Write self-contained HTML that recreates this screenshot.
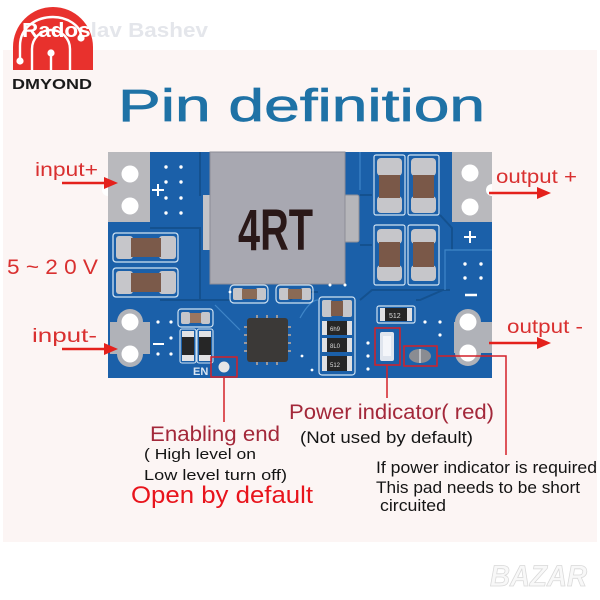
<!DOCTYPE html>
<html><head><meta charset="utf-8"><style>
html,body{margin:0;padding:0;background:#fff;}
svg{display:block}
text{font-family:"Liberation Sans",sans-serif}
</style></head><body>
<svg width="600" height="600" viewBox="0 0 600 600" xmlns="http://www.w3.org/2000/svg">
<rect width="600" height="600" fill="#fff"/>
<rect x="3" y="50" width="594" height="492" fill="#fcf5f4"/>

<!-- logo -->
<path d="M13,70 V47 A40,40 0 0 1 93,47 V70 Z" fill="#e8312d"/>
<g stroke="#fff" stroke-width="2.4" fill="none">
<path d="M20,59 V46 C20,26 38,17 53,17 C68,17 80,26 81,35"/>
<path d="M32,70 V49 A19,19 0 0 1 70,49 V70"/>
<path d="M51,56 V70"/>
</g>
<g fill="#fff"><circle cx="20" cy="61" r="3.6"/><circle cx="51" cy="53" r="3.6"/><circle cx="81" cy="38" r="3.6"/></g>
<text x="12" y="89" font-size="15" font-weight="bold" fill="#1a1a1a" textLength="80" lengthAdjust="spacingAndGlyphs">DMYOND</text>

<!-- watermark -->
<text x="22" y="37" font-size="20" font-weight="bold" textLength="186" lengthAdjust="spacingAndGlyphs"><tspan fill="#ffffff">Rados</tspan><tspan fill="#e4e6eb">lav Bashev</tspan></text>

<!-- title -->
<text x="118" y="121" font-size="45" fill="#1f72a6" stroke="#1f72a6" stroke-width="0.7" textLength="367" lengthAdjust="spacingAndGlyphs">Pin definition</text>

<!-- board -->
<rect x="108" y="152" width="384" height="226" fill="#1b60a9"/>
<!-- traces -->
<g stroke="#14518f" stroke-width="2" fill="none">
<path d="M200,152 V196"/>
<path d="M150,228 H200 V300 H230"/>
<path d="M360,195 H372 M360,245 H372"/>
<path d="M440,215 L452,228 V250"/>
<path d="M443,290 L420,300 H416"/>
<path d="M290,300 L300,292 H318"/>
<path d="M160,300 H220"/>
<path d="M360,300 L372,290 H450"/>
</g>
<g stroke="#3f86c8" stroke-width="1.2" fill="none">
<path d="M360,190 V152"/>
<path d="M445,290 V250 H492"/>
<path d="M300,318 Q310,300 318,300"/>
<path d="M240,330 Q225,315 215,305"/>
</g>

<!-- left top pad -->
<rect x="108" y="152" width="42" height="70" fill="#b9b9bd"/>
<circle cx="130" cy="174" r="8.5" fill="#fff"/>
<circle cx="130" cy="206" r="8.5" fill="#fff"/>
<path d="M108,184 A6,6 0 0 0 108,196" fill="#fff"/>
<g stroke="#fff" stroke-width="2"><path d="M152,190 H164 M158,184 V196"/></g>
<g fill="#fff">
<circle cx="166" cy="167" r="1.7"/><circle cx="181" cy="167" r="1.7"/>
<circle cx="166" cy="182" r="1.7"/><circle cx="181" cy="182" r="1.7"/>
<circle cx="166" cy="198" r="1.7"/><circle cx="181" cy="198" r="1.7"/>
<circle cx="166" cy="213" r="1.7"/><circle cx="181" cy="213" r="1.7"/>
</g>

<!-- left caps -->
<g>
<rect x="113" y="233" width="65" height="29" rx="3" fill="none" stroke="#cfe2f2" stroke-width="1.3"/>
<rect x="116" y="236" width="17" height="23" rx="3" fill="#c6c6ca"/>
<rect x="159" y="236" width="17" height="23" rx="3" fill="#c6c6ca"/>
<rect x="131" y="238" width="30" height="19" fill="#7b5a4a"/>
<rect x="113" y="268" width="65" height="29" rx="3" fill="none" stroke="#cfe2f2" stroke-width="1.3"/>
<rect x="116" y="271" width="17" height="23" rx="3" fill="#c6c6ca"/>
<rect x="159" y="271" width="17" height="23" rx="3" fill="#c6c6ca"/>
<rect x="131" y="273" width="30" height="19" fill="#7b5a4a"/>
</g>

<!-- bottom left holes -->
<rect x="110" y="322" width="40" height="32" fill="#b0b2b8"/>
<circle cx="130" cy="322" r="13" fill="#b0b2b8"/>
<circle cx="130" cy="354" r="13" fill="#b0b2b8"/>
<circle cx="130" cy="322" r="8.5" fill="#fff"/>
<circle cx="130" cy="354" r="8.5" fill="#fff"/>
<g fill="#fff">
<circle cx="158" cy="322" r="1.6"/><circle cx="171" cy="322" r="1.6"/>
<circle cx="171" cy="338" r="1.6"/>
<circle cx="158" cy="354" r="1.6"/><circle cx="171" cy="354" r="1.6"/>
</g>
<path d="M153,344 H164" stroke="#fff" stroke-width="2"/>

<!-- small cap + resistors bottom left -->
<rect x="178" y="309" width="35" height="18" rx="3" fill="none" stroke="#cfe2f2" stroke-width="1.2"/>
<rect x="181" y="312" width="9" height="12" rx="2" fill="#c6c6ca"/>
<rect x="201" y="312" width="9" height="12" rx="2" fill="#c6c6ca"/>
<rect x="190" y="313" width="11" height="10" fill="#9a7660"/>
<rect x="180" y="329" width="16" height="34" rx="2" fill="none" stroke="#cfe2f2" stroke-width="1.1"/>
<rect x="197" y="329" width="16" height="34" rx="2" fill="none" stroke="#cfe2f2" stroke-width="1.1"/>
<rect x="182" y="331" width="12" height="30" fill="#e2e2e4"/>
<rect x="199" y="331" width="12" height="30" fill="#e2e2e4"/>
<rect x="182" y="337" width="12" height="18" fill="#262626"/>
<rect x="199" y="337" width="12" height="18" fill="#262626"/>
<text x="193" y="375" font-size="11" font-weight="bold" fill="#dbe6f2">EN</text>

<!-- inductor -->
<rect x="203" y="195" width="8" height="55" fill="#c4c4c8"/>
<rect x="344" y="195" width="15" height="47" rx="2" fill="#b6b6ba" stroke="#8f8f97" stroke-width="1"/>
<rect x="210" y="152" width="135" height="132" fill="#a8a8b1" stroke="#8d8d96" stroke-width="1"/>
<text x="238" y="250" font-size="58" font-weight="bold" fill="#2a1818" textLength="75" lengthAdjust="spacingAndGlyphs">4RT</text>

<!-- caps under inductor -->
<rect x="230" y="285" width="38" height="18" rx="4" fill="none" stroke="#cfe2f2" stroke-width="1.2"/>
<rect x="233" y="288" width="10" height="12" rx="2" fill="#c6c6ca"/>
<rect x="256" y="288" width="10" height="12" rx="2" fill="#c6c6ca"/>
<rect x="242" y="289" width="15" height="10" fill="#8a6a55"/>
<rect x="276" y="285" width="37" height="18" rx="4" fill="none" stroke="#cfe2f2" stroke-width="1.2"/>
<rect x="279" y="288" width="10" height="12" rx="2" fill="#c6c6ca"/>
<rect x="301" y="288" width="10" height="12" rx="2" fill="#c6c6ca"/>
<rect x="288" y="289" width="14" height="10" fill="#8a6a55"/>

<!-- IC -->
<rect x="247" y="318" width="41" height="44" rx="3" fill="#3b3937"/>
<g fill="#9a9aa0">
<rect x="244" y="326" width="3" height="2"/><rect x="244" y="334" width="3" height="2"/><rect x="244" y="342" width="3" height="2"/><rect x="244" y="350" width="3" height="2"/>
<rect x="288" y="326" width="3" height="2"/><rect x="288" y="334" width="3" height="2"/><rect x="288" y="342" width="3" height="2"/><rect x="288" y="350" width="3" height="2"/>
<rect x="256" y="315" width="2" height="3"/><rect x="266" y="315" width="2" height="3"/><rect x="276" y="315" width="2" height="3"/>
<rect x="256" y="362" width="2" height="3"/><rect x="266" y="362" width="2" height="3"/><rect x="276" y="362" width="2" height="3"/>
</g>

<!-- resistor column -->
<rect x="319" y="297" width="36" height="78" rx="3" fill="none" stroke="#cfe2f2" stroke-width="1.2"/>
<rect x="322" y="300" width="10" height="17" rx="2" fill="#c6c6ca"/>
<rect x="342" y="300" width="10" height="17" rx="2" fill="#c6c6ca"/>
<rect x="331" y="301" width="12" height="15" fill="#7e5c4a"/>
<g>
<rect x="322" y="321" width="30" height="14" fill="#e0e0e2"/><rect x="327" y="321" width="20" height="14" fill="#262626"/>
<rect x="322" y="338" width="30" height="14" fill="#e0e0e2"/><rect x="327" y="338" width="20" height="14" fill="#262626"/>
<rect x="322" y="356" width="30" height="15" fill="#e0e0e2"/><rect x="327" y="356" width="20" height="15" fill="#262626"/>
</g>
<g font-size="6" fill="#ddd"><text x="330" y="331">6h9</text><text x="330" y="348">8L0</text><text x="330" y="367">512</text></g>

<!-- 512 resistor -->
<rect x="377" y="306" width="38" height="17" rx="2" fill="none" stroke="#cfe2f2" stroke-width="1.2"/>
<rect x="380" y="308" width="32" height="13" fill="#e0e0e2"/>
<rect x="385" y="308" width="22" height="13" fill="#262626"/>
<text x="389" y="318" font-size="7" fill="#ddd">512</text>

<!-- right caps -->
<g fill="none" stroke="#cfe2f2" stroke-width="1.2">
<rect x="374" y="155" width="31" height="60" rx="2"/>
<rect x="408" y="155" width="31" height="60" rx="2"/>
<rect x="374" y="225" width="31" height="60" rx="2"/>
<rect x="408" y="225" width="31" height="60" rx="2"/>
</g>
<g fill="#c6c6ca">
<rect x="377" y="158" width="25" height="18" rx="4"/><rect x="377" y="196" width="25" height="17" rx="4"/>
<rect x="411" y="158" width="25" height="18" rx="4"/><rect x="411" y="196" width="25" height="17" rx="4"/>
<rect x="377" y="229" width="25" height="15" rx="4"/><rect x="377" y="265" width="25" height="16" rx="4"/>
<rect x="411" y="229" width="25" height="15" rx="4"/><rect x="411" y="265" width="25" height="16" rx="4"/>
</g>
<g fill="#7a5848">
<rect x="379" y="175" width="21" height="23"/><rect x="413" y="175" width="21" height="23"/>
<rect x="379" y="242" width="21" height="25"/><rect x="413" y="242" width="21" height="25"/>
</g>

<!-- right top pad -->
<rect x="452" y="152" width="40" height="70" fill="#b9b9bd"/>
<circle cx="470" cy="173" r="8.5" fill="#fff"/>
<circle cx="470" cy="207" r="8.5" fill="#fff"/>
<path d="M492,184 A6,6 0 0 0 492,196" fill="#fff"/>
<g stroke="#fff" stroke-width="2"><path d="M464,237 H476 M470,231 V243"/><path d="M465,295 H477" stroke-width="2.5"/></g>
<g fill="#fff">
<circle cx="465" cy="264" r="1.7"/><circle cx="481" cy="264" r="1.7"/>
<circle cx="465" cy="278" r="1.7"/><circle cx="481" cy="278" r="1.7"/>
<circle cx="368" cy="343" r="1.6"/><circle cx="368" cy="356" r="1.6"/><circle cx="368" cy="369" r="1.6"/>
<circle cx="425" cy="322" r="1.6"/><circle cx="440" cy="322" r="1.6"/><circle cx="440" cy="335" r="1.6"/>
<circle cx="230" cy="292" r="1.4"/><circle cx="312" cy="370" r="1.4"/><circle cx="302" cy="356" r="1.4"/>
<circle cx="330" cy="285" r="1.5"/><circle cx="345" cy="285" r="1.5"/>
</g>

<!-- bottom right holes -->
<rect x="454" y="322" width="38" height="31" fill="#b0b2b8"/>
<circle cx="468" cy="322" r="13" fill="#b0b2b8"/>
<circle cx="468" cy="353" r="13" fill="#b0b2b8"/>
<circle cx="468" cy="322" r="8.5" fill="#fff"/>
<circle cx="468" cy="353" r="8.5" fill="#fff"/>

<!-- LED -->
<rect x="380" y="332" width="14" height="29" rx="2" fill="#dfe5ee"/>
<rect x="383" y="336" width="8" height="20" fill="#f4f6fa"/>
<!-- pad -->
<ellipse cx="420" cy="356" rx="11" ry="7" fill="#8a8c92"/>
<path d="M420,349 V363" stroke="#d0d2d6" stroke-width="1.5"/>

<!-- red boxes -->
<g fill="none" stroke="#d42028" stroke-width="1.5">
<rect x="211" y="357" width="26" height="20"/>
<rect x="375" y="328" width="25" height="37"/>
<rect x="404" y="346" width="33" height="20"/>
</g>
<circle cx="224" cy="367" r="5.5" fill="#e6e6e6"/>

<!-- connectors -->
<g stroke="#d42028" stroke-width="1.5" fill="none">
<path d="M224,377 V422"/>
<path d="M387,365 V398"/>
<path d="M437,356 H506 V455"/>
</g>

<!-- arrows -->
<g fill="#e4211c" stroke="#e4211c">
<path d="M62,183 H106" stroke-width="2.5"/><polygon points="118,183 104,177 104,189" stroke="none"/>
<path d="M62,349 H106" stroke-width="2.5"/><polygon points="118,349 104,343 104,355" stroke="none"/>
<path d="M489,193 H538" stroke-width="2.5"/><polygon points="551,193 537,187 537,199" stroke="none"/>
<path d="M489,343 H538" stroke-width="2.5"/><polygon points="551,343 537,337 537,349" stroke="none"/>
</g>

<!-- side labels -->
<g fill="#d93030">
<text x="35" y="176" font-size="19" textLength="63" lengthAdjust="spacingAndGlyphs">input+</text>
<text x="7" y="274" font-size="21" textLength="91" lengthAdjust="spacingAndGlyphs">5 ~ 2 0 V</text>
<text x="32" y="342" font-size="19" textLength="65" lengthAdjust="spacingAndGlyphs">input-</text>
<text x="496" y="183" font-size="19" textLength="81" lengthAdjust="spacingAndGlyphs">output +</text>
<text x="507" y="333" font-size="19" textLength="76" lengthAdjust="spacingAndGlyphs">output -</text>
</g>

<!-- bottom labels -->
<text x="289" y="419" font-size="21" fill="#a3283a" textLength="205" lengthAdjust="spacingAndGlyphs">Power indicator( red)</text>
<text x="300" y="443" font-size="17" fill="#141414" textLength="173" lengthAdjust="spacingAndGlyphs">(Not used by default)</text>
<text x="150" y="441" font-size="21" fill="#a3283a" textLength="130" lengthAdjust="spacingAndGlyphs">Enabling end</text>
<text x="144" y="459" font-size="15" fill="#141414" textLength="112" lengthAdjust="spacingAndGlyphs">( High level on</text>
<text x="144" y="480" font-size="15" fill="#141414" textLength="143" lengthAdjust="spacingAndGlyphs">Low level turn off)</text>
<text x="131" y="503" font-size="24" fill="#e8141c" textLength="182" lengthAdjust="spacingAndGlyphs">Open by default</text>
<text x="376" y="473" font-size="16.5" fill="#141414" textLength="221" lengthAdjust="spacingAndGlyphs">If power indicator is required</text>
<text x="376" y="493" font-size="16.5" fill="#141414" textLength="204" lengthAdjust="spacingAndGlyphs">This pad needs to be short</text>
<text x="380" y="511" font-size="16.5" fill="#141414" textLength="66" lengthAdjust="spacingAndGlyphs">circuited</text>

<!-- bazar logo -->
<text x="490" y="586" font-size="30" font-weight="bold" font-style="italic" fill="#f8f8f8" stroke="#d9d9d9" stroke-width="0.8" textLength="97" lengthAdjust="spacingAndGlyphs">BAZAR</text>
</svg>
</body></html>
